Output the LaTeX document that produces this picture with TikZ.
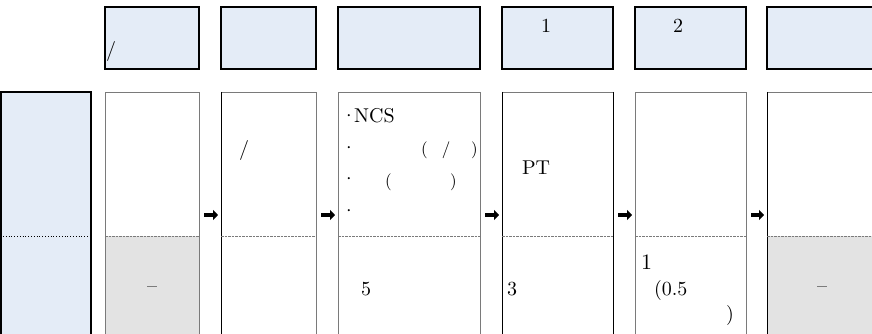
\documentclass[tikz,border=0pt]{standalone}
\usepackage{fontspec}
\setmainfont{lmroman10-regular.otf}
\usetikzlibrary{arrows.meta}
\definecolor{hdrblue}{HTML}{E4ECF7}
\definecolor{cellgray}{HTML}{E3E3E3}
\definecolor{edgegray}{HTML}{7A7A7A}
\begin{document}
\begin{tikzpicture}[x=1pt,y=-1pt,
  hdr/.style={draw=black,line width=1.2pt,fill=hdrblue,inner sep=0pt,outer sep=0pt,anchor=north west,minimum height=62pt},
  col/.style={draw=edgegray,line width=0.9pt,inner sep=0pt,outer sep=0pt,anchor=north west,minimum height=250pt},
  txt/.style={font=\fontsize{20}{24}\selectfont,inner sep=0pt,outer sep=0pt,anchor=base west},
  ctxt/.style={txt,anchor=base},
  blk/.style={line width=4.6pt,-{Triangle[length=5pt,width=10pt]},shorten <=5pt,shorten >=3pt},
  split/.style={edgegray,line width=0.6pt,dash pattern=on 2.5pt off 1pt},
  blackedge/.style={black,line width=0.9pt}
]
\useasboundingbox (0,0) rectangle (872,334);
\begin{scope}
\clip (0,0) rectangle (872,334);
\coordinate (dl) at (0,236);
\coordinate (ay) at (0,215);
% grey lower halves
\fill[cellgray] (105,236) rectangle (199,345);
\fill[cellgray] (767,236) rectangle (885,345);
% header row
\node[hdr,minimum width=94pt]  (h1) at (105,7) {};
\node[hdr,minimum width=95pt]  (h2) at (221,7) {};
\node[hdr,minimum width=142pt] (h3) at (338,7) {};
\node[hdr,minimum width=111pt] (h4) at (502,7) {};
\node[hdr,minimum width=111pt] (h5) at (635,7) {};
\node[hdr,minimum width=112pt] (h6) at (767,7) {};
% left label box
\node[draw=black,line width=1.5pt,fill=hdrblue,inner sep=0pt,outer sep=0pt,anchor=north west,
      minimum width=90pt,minimum height=250pt] (lab) at (1,92) {};
\draw[black,line width=0.8pt,dotted] ([xshift=2pt]lab.west |- dl) -- ([xshift=-2pt]lab.east |- dl);
% columns
\node[col,minimum width=94pt]  (c1) at (105,92) {};
\node[col,minimum width=95pt]  (c2) at (221,92) {};
\node[col,minimum width=142pt] (c3) at (338,92) {};
\node[col,minimum width=111pt] (c4) at (502,92) {};
\node[col,minimum width=111pt] (c5) at (635,92) {};
\node[col,minimum width=112pt] (c6) at (767,92) {};
\draw[blackedge] (c2.north west) -- (c2.south west);
\draw[blackedge] (c4.north west) -- (c4.south west);
\draw[blackedge] (c4.north east) -- (c4.south east);
\draw[blackedge] (c6.north west) -- (c6.south west);
\foreach \c in {c1,c2,c3,c4,c5,c6}
  \draw[split] (\c.west |- dl) -- (\c.east |- dl);
% arrows
\draw[blk] (c1.east |- ay) -- (c2.west |- ay);
\draw[blk] (c2.east |- ay) -- (c3.west |- ay);
\draw[blk] (c3.east |- ay) -- (c4.west |- ay);
\draw[blk] (c4.east |- ay) -- (c5.west |- ay);
\draw[blk] (c5.east |- ay) -- (c6.west |- ay);
% header texts
\node[ctxt] (t1) at (111,57) {/};
\node[ctxt] (t4) at (546,33) {1};
\node[ctxt] (t5) at (678,33) {2};
% column texts
\node[ctxt] (c2a) at (244,155) {/};
\node[ctxt] (c1b) at (152,292) {--};
\node[ctxt] (c6b) at (822,292) {--};
\node[txt] (c3a) at (341,123) {\textperiodcentered\kern-2.5pt NCS};
\node[txt] (c3b) at (341,154) {\textperiodcentered};
\node[txt] (c3c) at (341,185) {\textperiodcentered};
\node[txt] (c3d) at (341,217) {\textperiodcentered};
\node[txt,font=\fontsize{17}{20}\selectfont] (c3b1) at (421,154) {(};
\node[ctxt,font=\fontsize{17}{20}\selectfont] (c3b2) at (446,154) {/};
\node[txt,font=\fontsize{17}{20}\selectfont] (c3b3) at (471,154) {)};
\node[txt,font=\fontsize{17}{20}\selectfont] (c3c1) at (385,186) {(};
\node[txt,font=\fontsize{17}{20}\selectfont] (c3c2) at (450,186) {)};
\node[txt] (c3e) at (361,295) {5};
\node[txt] (c4a) at (522,174) {PT};
\node[txt] (c4b) at (507,295) {3};
\node[txt,font=\fontsize{22}{26}\selectfont] (c5a) at (641,269) {1};
\node[txt] (c5b) at (654,295) {(0.5};
\node[txt] (c5c) at (726,320) {)};
\end{scope}
\end{tikzpicture}
\end{document}
